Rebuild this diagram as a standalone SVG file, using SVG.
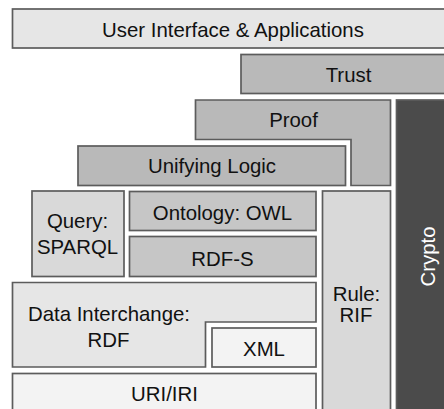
<svg xmlns="http://www.w3.org/2000/svg" width="444" height="409" viewBox="0 0 444 409">
  <style>
    .box { stroke: #5c5c5c; stroke-width: 1.7; }
    .lbl { font-family: "Liberation Sans", Arial, sans-serif; font-size: 20.4px; fill: #111111; text-anchor: middle; }
    .light { fill: #e6e6e6; }
    .pale { fill: #f3f3f3; }
    .mid { fill: #d9d9d9; }
    .owl { fill: #c6c6c6; }
    .dark { fill: #b9b9b9; }
  </style>
  <rect width="444" height="409" fill="#ffffff"/>

  <g id="ui">
    <rect class="box light" x="12.5" y="9" width="445" height="39"/>
    <text class="lbl" x="233" y="36.5">User Interface &amp; Applications</text>
  </g>

  <g id="trust">
    <rect class="box dark" x="241" y="54.5" width="215" height="39"/>
    <text class="lbl" x="348.5" y="81.5">Trust</text>
  </g>

  <g id="proof">
    <path class="box dark" d="M195.5 100 H390.5 V185.5 H351 V139.5 H195.5 Z"/>
    <text class="lbl" x="293.5" y="127">Proof</text>
  </g>

  <g id="logic">
    <rect class="box dark" x="78" y="146" width="267.5" height="39.5"/>
    <text class="lbl" x="212" y="172.5">Unifying Logic</text>
  </g>

  <g id="crypto">
    <rect x="396.5" y="100" width="60" height="320" fill="#4b4b4b" stroke="#5c5c5c" stroke-width="1.7"/>
    <text class="lbl" transform="translate(434.5 256.5) rotate(-90)" style="fill:#ffffff">Crypto</text>
  </g>

  <g id="query">
    <rect class="box mid" x="32" y="191" width="92" height="85.5"/>
    <text class="lbl" x="77.5" y="228">Query:</text>
    <text class="lbl" x="77.5" y="253.5">SPARQL</text>
  </g>

  <g id="owl">
    <rect class="box owl" x="129.5" y="191.5" width="186.5" height="39"/>
    <text class="lbl" x="222.5" y="219.5">Ontology: OWL</text>
  </g>

  <g id="rdfs">
    <rect class="box owl" x="129.5" y="236.5" width="186.5" height="40"/>
    <text class="lbl" x="222.5" y="265.5">RDF-S</text>
  </g>

  <g id="rule">
    <rect class="box mid" x="322.5" y="191" width="68" height="230"/>
    <text class="lbl" x="356.5" y="300.5">Rule:</text>
    <text class="lbl" x="356" y="322">RIF</text>
  </g>

  <g id="rdf">
    <path class="box light" d="M12.5 282.5 H316 V322 H205.5 V367 H12.5 Z"/>
    <text class="lbl" x="109" y="321">Data Interchange:</text>
    <text class="lbl" x="108.5" y="347">RDF</text>
  </g>

  <g id="xml">
    <rect class="box pale" x="212" y="328" width="104" height="39"/>
    <text class="lbl" x="264" y="356">XML</text>
  </g>

  <g id="uri">
    <rect class="box pale" x="12.5" y="373.5" width="303.5" height="50"/>
    <text class="lbl" x="164.5" y="401">URI/IRI</text>
  </g>

  <g id="connectors"/>
</svg>
